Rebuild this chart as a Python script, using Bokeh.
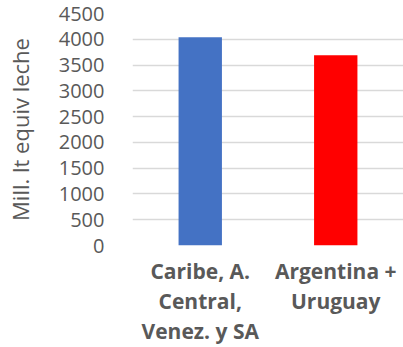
from bokeh.plotting import figure
from bokeh.models import (Range1d, SingleIntervalTicker, FixedTicker, ColumnDataSource,
                          LinearAxis)
from bokeh.embed import file_html
from bokeh.resources import INLINE

categories = ["Caribe, A. Central, Venez. y SA", "Argentina + Uruguay"]
label_line1 = ["Caribe, A.", "Argentina +"]
label_line2 = ["Central,", "Uruguay"]
label_line3 = ["Venez. y SA", ""]
values = [4040, 3690]
colors = ["#4472C4", "#FF0000"]
y_label = "Mill. lt equiv leche"

pos = list(range(len(categories)))
src = ColumnDataSource(dict(x=pos, cat=categories, val=values, col=colors))

p = figure(width=403, height=347, output_backend="svg", toolbar_location=None,
           x_range=Range1d(-0.5, len(categories) - 0.5),
           y_range=Range1d(0, 4500),
           min_border_left=132, min_border_right=0, min_border_top=13, min_border_bottom=10)
p.outline_line_color = None
p.background_fill_color = "white"
p.border_fill_color = "white"

p.vbar(x="x", top="val", width=0.32, fill_color="col", line_color=None, source=src)

p.yaxis.ticker = SingleIntervalTicker(interval=500)
p.yaxis.axis_line_color = None
p.yaxis.major_tick_line_color = None
p.yaxis.minor_tick_line_color = None
p.yaxis.major_label_text_font = "Open Sans"
p.yaxis.major_label_text_font_size = "20px"
p.yaxis.major_label_text_color = "#595959"
p.yaxis.major_label_standoff = 22
p.yaxis.axis_label = y_label
p.yaxis.axis_label_text_font = "Open Sans"
p.yaxis.axis_label_text_font_size = "22px"
p.yaxis.axis_label_text_font_style = "normal"
p.yaxis.axis_label_text_color = "#595959"
p.yaxis.axis_label_standoff = 21

p.xaxis.visible = False

for lines, standoff in ((label_line1, 5), (label_line2, -7), (label_line3, -7)):
    ax = LinearAxis(ticker=FixedTicker(ticks=pos),
                    major_label_overrides=dict(zip(pos, lines)),
                    axis_line_color=None, major_tick_line_color=None,
                    minor_tick_line_color=None, major_label_standoff=standoff,
                    major_label_text_font="Open Sans",
                    major_label_text_font_size="21px",
                    major_label_text_font_style="bold",
                    major_label_text_color="#595959")
    p.add_layout(ax, "below")

p.xgrid.grid_line_color = None
p.ygrid.grid_line_color = "#d9d9d9"
p.ygrid.grid_line_width = 1.5

open("out.html", "w").write(file_html(p, INLINE))
